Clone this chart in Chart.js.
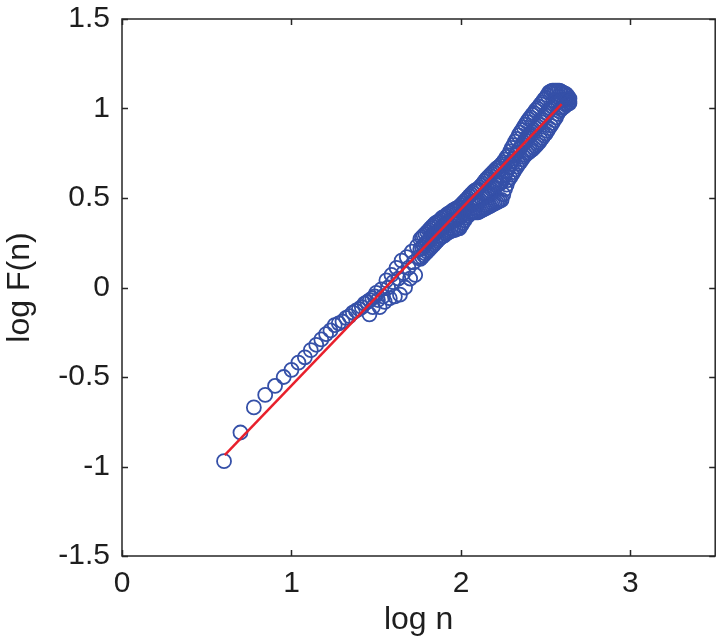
<!DOCTYPE html>
<html>
<head>
<meta charset="utf-8">
<script src="https://cdn.jsdelivr.net/npm/chart.js@4/dist/chart.umd.min.js"></script>
<style>
html,body{margin:0;padding:0;background:#fff;}
canvas{display:block;}
</style>
</head>
<body>
<canvas id="c" width="724" height="643"></canvas>
<script>
// ---- data ----
// sparse part (individual circles visible)
const logN = [
  0.602,0.699,0.778,0.845,0.903,0.954,1.000,1.041,1.079,1.114,1.146,1.176,1.204,1.230,1.255,1.279,
  1.301,1.322,1.342,1.362,1.380,1.398,1.415,1.431,1.447,1.462,1.477,1.491,1.460,1.480,
  1.50,1.51,1.52,1.53,1.54,1.55,1.56,1.57,1.58,1.59,1.60,1.61,1.62,1.63,1.64,1.65,1.66,1.67,1.68,1.69,
  1.70,1.71,1.72,1.73,1.74,1.75
];
const logF = [
  -0.97,-0.81,-0.67,-0.60,-0.55,-0.50,-0.46,-0.42,-0.39,-0.35,-0.32,-0.29,-0.26,-0.24,-0.21,-0.20,
  -0.19,-0.17,-0.16,-0.14,-0.13,-0.12,-0.11,-0.09,-0.08,-0.07,-0.06,-0.05,-0.15,-0.11,
  -0.03,-0.07,-0.11,-0.01,-0.05,-0.08,0.04,0.00,-0.06,0.07,0.03,-0.05,0.11,0.05,-0.04,0.15,0.08,0.00,0.17,0.11,
  0.05,0.20,0.14,0.07,0.23,0.17
];
// dense part (overlapping circles form a solid band): upper, middle and lower edge of the band
const denseN = [
  1.76,1.77,1.78,1.79,1.80,1.81,1.82,1.83,1.84,1.85,
  1.86,1.87,1.88,1.89,1.90,1.91,1.92,1.93,1.94,1.95,
  1.96,1.97,1.98,1.99,2.00,2.01,2.02,2.03,2.04,2.05,
  2.06,2.07,2.08,2.09,2.10,2.11,2.12,2.13,2.14,2.15,
  2.16,2.17,2.18,2.19,2.20,2.21,2.22,2.23,2.24,2.25,
  2.26,2.27,2.28,2.29,2.30,2.31,2.32,2.33,2.34,2.35,
  2.36,2.37,2.38,2.39,2.40,2.41,2.42,2.43,2.44,2.45,
  2.46,2.47,2.48,2.49,2.50,2.51,2.52,2.53,2.54,2.55,
  2.56,2.57,2.58,2.59,2.60,2.61,2.62,2.63,2.64
];
const denseFUpper = [
  0.27,0.28,0.29,0.30,0.31,0.32,0.33,0.34,0.35,0.36,
  0.365,0.37,0.38,0.39,0.395,0.40,0.41,0.415,0.42,0.43,
  0.435,0.44,0.445,0.45,0.46,0.47,0.48,0.49,0.50,0.51,
  0.52,0.53,0.54,0.545,0.55,0.56,0.57,0.58,0.595,0.605,
  0.615,0.625,0.635,0.645,0.655,0.665,0.67,0.68,0.69,0.70,
  0.715,0.73,0.74,0.76,0.78,0.795,0.815,0.83,0.85,0.865,
  0.88,0.895,0.91,0.925,0.94,0.95,0.965,0.975,0.99,1.00,
  1.01,1.025,1.035,1.05,1.06,1.075,1.09,1.095,1.10,1.10,
  1.10,1.10,1.10,1.095,1.09,1.085,1.08,1.07,1.055
];
const denseFMid = [
  0.215,0.225,0.235,0.245,0.255,0.265,0.275,0.285,0.295,0.305,
  0.31,0.32,0.33,0.34,0.34,0.35,0.36,0.36,0.37,0.375,
  0.38,0.38,0.39,0.39,0.40,0.415,0.43,0.44,0.45,0.46,
  0.47,0.475,0.48,0.48,0.485,0.49,0.50,0.51,0.52,0.525,
  0.53,0.54,0.55,0.555,0.56,0.57,0.575,0.58,0.59,0.61,
  0.63,0.65,0.67,0.69,0.705,0.72,0.74,0.75,0.77,0.78,
  0.80,0.81,0.825,0.84,0.85,0.86,0.87,0.88,0.89,0.90,
  0.91,0.925,0.935,0.95,0.96,0.975,0.99,1.00,1.01,1.02,
  1.025,1.035,1.04,1.045,1.05,1.05,1.05,1.05,1.04
];
const denseFLower = [
  0.16,0.17,0.18,0.19,0.20,0.21,0.22,0.23,0.24,0.25,
  0.26,0.27,0.28,0.285,0.29,0.30,0.305,0.31,0.315,0.32,
  0.32,0.325,0.33,0.33,0.345,0.36,0.375,0.39,0.40,0.41,
  0.42,0.42,0.42,0.42,0.42,0.425,0.43,0.435,0.44,0.445,
  0.45,0.455,0.46,0.465,0.47,0.475,0.48,0.485,0.49,0.52,
  0.55,0.575,0.60,0.615,0.63,0.645,0.66,0.675,0.69,0.70,
  0.715,0.73,0.74,0.75,0.755,0.765,0.77,0.78,0.79,0.80,
  0.81,0.825,0.835,0.85,0.86,0.875,0.89,0.905,0.92,0.935,
  0.95,0.97,0.985,0.995,1.005,1.01,1.02,1.025,1.03
];
// fitted straight line
const fitX = [0.606, 2.594];
const fitY = [-0.936, 1.025];
const xTicks = [0, 1, 2, 3];
const xTickLabels = ['0', '1', '2', '3'];
const yTicks = [-1.5, -1, -0.5, 0, 0.5, 1, 1.5];
const yTickLabels = ['-1.5', '-1', '-0.5', '0', '0.5', '1', '1.5'];
const xTitle = 'log n';
const yTitle = 'log F(n)';

// ---- build ----
const scatterPts = logN.map((x, i) => ({x: x, y: logF[i]}));
[denseFUpper, denseFMid, denseFLower].forEach(arr => {
  denseN.forEach((x, i) => scatterPts.push({x: x, y: arr[i]}));
});
const fitPts = fitX.map((x, i) => ({x: x, y: fitY[i]}));
const FONT = "'Liberation Sans', Arial, sans-serif";
const AXIS_COLOR = '#262626';
const TEXT_COLOR = '#1e1e1e';

const boxPlugin = {
  id: 'boxPlugin',
  afterDraw(chart) {
    const ctx = chart.ctx;
    const a = chart.chartArea;
    const xs = chart.scales.x, ys = chart.scales.y;
    ctx.save();
    ctx.strokeStyle = AXIS_COLOR;
    ctx.lineWidth = 1.5;
    ctx.strokeRect(a.left, a.top, a.right - a.left, a.bottom - a.top);
    const tl = 6;
    ctx.beginPath();
    xTicks.forEach(v => {
      const px = Math.round(xs.getPixelForValue(v)) + 0.5;
      ctx.moveTo(px, a.bottom); ctx.lineTo(px, a.bottom - tl);
      ctx.moveTo(px, a.top); ctx.lineTo(px, a.top + tl);
    });
    yTicks.forEach(v => {
      const py = Math.round(ys.getPixelForValue(v)) + 0.5;
      ctx.moveTo(a.left, py); ctx.lineTo(a.left + tl, py);
      ctx.moveTo(a.right, py); ctx.lineTo(a.right - tl, py);
    });
    ctx.stroke();
    ctx.restore();
  }
};

new Chart(document.getElementById('c'), {
  type: 'scatter',
  data: {
    datasets: [
      {
        label: 'data',
        data: scatterPts,
        showLine: false,
        pointStyle: 'circle',
        pointRadius: 7,
        pointHoverRadius: 7,
        pointBorderWidth: 1.8,
        borderColor: '#3550a8',
        backgroundColor: 'rgba(0,0,0,0)',
        order: 1
      },
      {
        label: 'fit',
        type: 'line',
        data: fitPts,
        showLine: true,
        borderColor: '#e8202c',
        borderWidth: 2.5,
        pointRadius: 0,
        fill: false,
        order: 0
      }
    ]
  },
  options: {
    responsive: false,
    animation: false,
    devicePixelRatio: 1,
    layout: {padding: {top: 19, right: 6, left: 0, bottom: 0}},
    plugins: {legend: {display: false}, tooltip: {enabled: false}},
    scales: {
      x: {
        type: 'linear',
        min: 0, max: 3.5,
        grid: {display: false, drawTicks: false},
        border: {display: false},
        afterBuildTicks: s => { s.ticks = xTicks.map(v => ({value: v})); },
        afterFit: s => { s.height = 87; s.paddingLeft = 0; s.paddingRight = 0; },
        ticks: {
          color: TEXT_COLOR,
          font: {family: FONT, size: 30},
          padding: 10,
          maxRotation: 0,
          callback: (v, i) => xTickLabels[i]
        },
        title: {display: true, text: xTitle, color: TEXT_COLOR, font: {family: FONT, size: 32}, padding: {top: 0, bottom: 4}}
      },
      y: {
        type: 'linear',
        min: -1.5, max: 1.5,
        grid: {display: false, drawTicks: false},
        border: {display: false},
        afterBuildTicks: s => { s.ticks = yTicks.map(v => ({value: v})); },
        afterFit: s => { s.width = 122; s.paddingTop = 0; s.paddingBottom = 0; },
        ticks: {
          color: TEXT_COLOR,
          font: {family: FONT, size: 30},
          padding: 12,
          callback: (v, i) => yTickLabels[i]
        },
        title: {display: true, text: yTitle, color: TEXT_COLOR, font: {family: FONT, size: 32}, padding: {top: 1, bottom: 0}}
      }
    }
  },
  plugins: [boxPlugin]
});
</script>
</body>
</html>
